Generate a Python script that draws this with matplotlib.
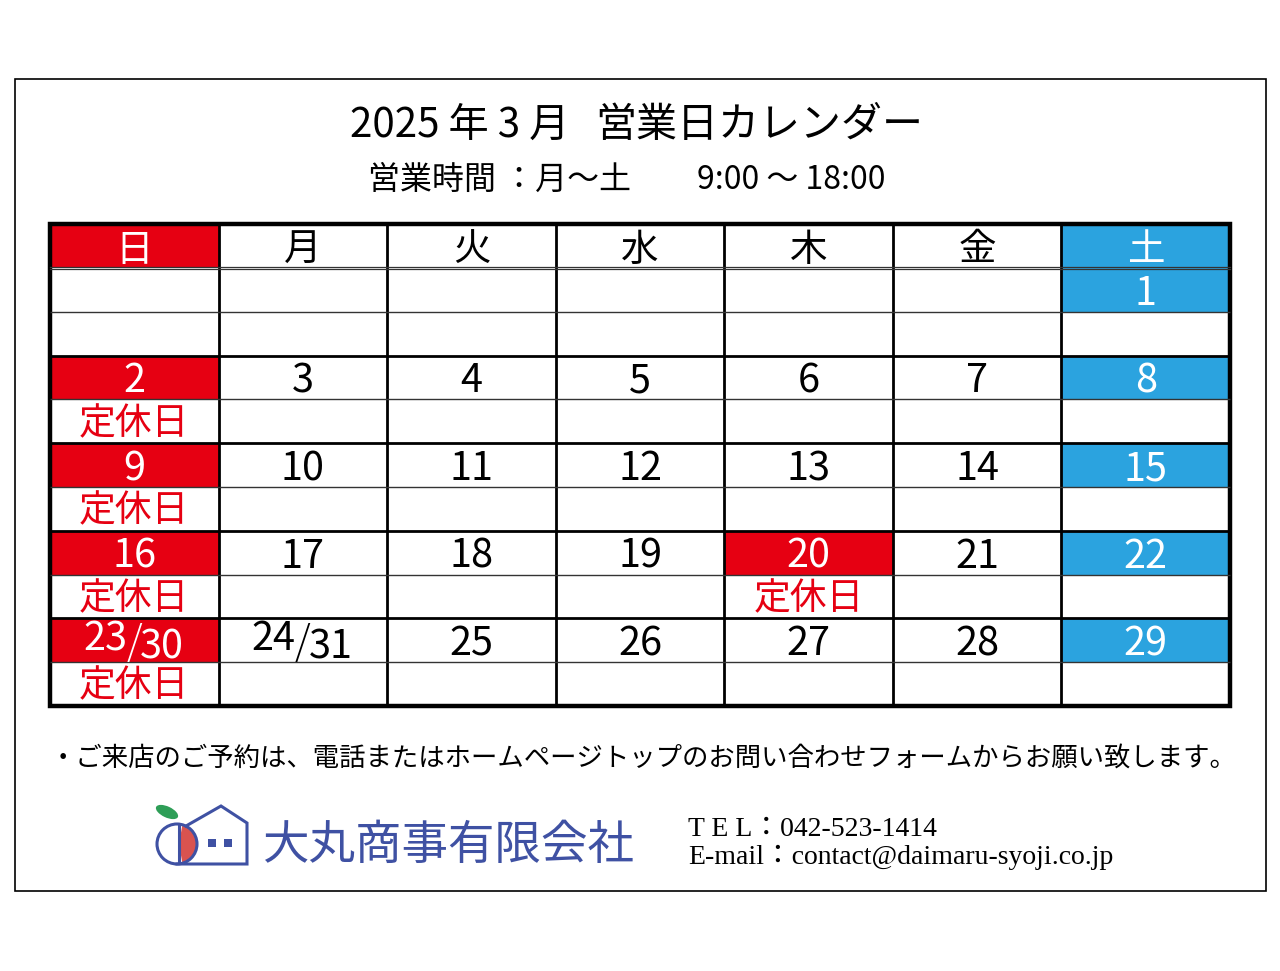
import matplotlib
matplotlib.use('Agg')
import matplotlib.pyplot as plt
from matplotlib.patches import Rectangle, Circle, Ellipse, Wedge
import numpy as np

plt.rcParams['font.family'] = ['Noto Sans CJK JP', 'DejaVu Sans']

# --- data ---
title_left = '2025 年 3 月'
title_right = '営業日カレンダー'
hours_left = '営業時間 ：月～土'
hours_right = '9:00 ～ 18:00'
weekdays = ['日', '月', '火', '水', '木', '金', '土']
weeks = [
    ['', '', '', '', '', '', '1'],
    ['2', '3', '4', '5', '6', '7', '8'],
    ['9', '10', '11', '12', '13', '14', '15'],
    ['16', '17', '18', '19', '20', '21', '22'],
    ['23/30', '24/31', '25', '26', '27', '28', '29'],
]
closed = [(1, 0), (2, 0), (3, 0), (3, 4), (4, 0)]   # (week, weekday)
closed_label = '定休日'
notice = '・ご来店のご予約は、電話またはホームページトップのお問い合わせフォームからお願い致します。'
company = '大丸商事有限会社'
tel = 'T E L：042-523-1414'
email = 'E-mail：contact@daimaru-syoji.co.jp'

RED = '#E60012'
BLUE = '#2BA3DF'
NAVY = '#3F51A3'
LOGO_RED = '#D9534F'
LEAF = '#2E9E57'

fig = plt.figure(figsize=(12.8, 9.71), dpi=100)
ax = fig.add_axes([0, 0, 1, 1])
ax.set_xlim(0, 1280)
ax.set_ylim(971, 0)
ax.axis('off')

# outer frame
ax.add_patch(Rectangle((15, 79), 1251, 812, fill=False, ec='black', lw=1.2))

ax.text(350, 125, title_left, ha='left', va='center', fontsize=29)
ax.text(595, 125, title_right, ha='left', va='center', fontsize=29.5)
ax.text(368, 180, hours_left, ha='left', va='center', fontsize=23)
ax.text(697, 180, hours_right, ha='left', va='center', fontsize=23)

# --- calendar table ---
left, right = 50, 1230
top, head_bot, bottom = 224, 268, 706
cw = (right - left) / 7
rh = (bottom - head_bot) / (2 * len(weeks))

for c, d in enumerate(weekdays):
    x = left + c * cw
    fc = RED if c == 0 else BLUE if c == 6 else 'white'
    ax.add_patch(Rectangle((x, top), cw, head_bot - top, fc=fc, ec='none'))
    ax.text(x + cw / 2, (top + head_bot) / 2 + 4, d,
            color='white' if c in (0, 6) else 'black',
            ha='center', va='center', fontsize=27)

num_fs = 28.5
for w, week in enumerate(weeks):
    y = head_bot + 2 * w * rh
    for c, day in enumerate(week):
        x = left + c * cw
        xc = x + cw / 2
        yc = y + rh / 2 + 4
        is_closed = (w, c) in closed
        fc = RED if is_closed else (BLUE if c == 6 and day else None)
        if fc:
            ax.add_patch(Rectangle((x, y), cw, rh, fc=fc, ec='none'))
        color = 'white' if fc else 'black'
        if '/' in day:
            a, b = day.split('/')
            ax.text(xc - 7, yc - 5, a, color=color, ha='right', va='center', fontsize=num_fs)
            ax.text(xc, yc, '/', color=color, ha='center', va='center',
                    fontsize=num_fs, fontweight='light')
            ax.text(xc + 6, yc + 3, b, color=color, ha='left', va='center', fontsize=num_fs)
        elif day:
            ax.text(xc, yc, day, color=color, ha='center', va='center', fontsize=num_fs)
        if is_closed:
            ax.text(xc, y + rh * 1.5 + 2, closed_label, color=RED,
                    ha='center', va='center', fontsize=26.5)

# grid lines
for c in range(8):
    x = left + c * cw
    ax.plot([x, x], [top, bottom], color='black', lw=2.0, solid_capstyle='butt')
ax.plot([left, right], [head_bot - 1, head_bot - 1], color='#333333', lw=0.9)
ax.plot([left, right], [head_bot + 1.5, head_bot + 1.5], color='#333333', lw=0.9)
for r in range(1, 2 * len(weeks)):
    yy = head_bot + r * rh
    ax.plot([left, right], [yy, yy], color='black' if r % 2 == 0 else '#333333',
            lw=2.0 if r % 2 == 0 else 1.0, solid_capstyle='butt')
ax.add_patch(Rectangle((left, top), right - left, bottom - top, fill=False,
                       ec='black', lw=3.2))

ax.text(50, 758, notice, ha='left', va='center', fontsize=19)

# --- logo ---
cx, cy, r = 177, 844, 20
ax.add_patch(Circle((cx, cy), r, fc='white', ec='none'))
ax.add_patch(Wedge((cx + 2, cy), r - 1.5, -80, 80, fc=LOGO_RED, ec='none'))
ax.add_patch(Circle((cx, cy), r, fill=False, ec=NAVY, lw=2.2))
ax.plot([cx + 2, cx + 2], [cy - r + 1, cy + r - 1], color=NAVY, lw=2.2)
ax.plot([cx + 9, 221, 247, 247, cx], [cy - r + 2, 806, 823, cy + r, cy + r],
        color=NAVY, lw=2.2, solid_joinstyle='miter')
ax.add_patch(Ellipse((167, 812), 24, 11, angle=25, fc=LEAF, ec='none'))
ax.add_patch(Rectangle((208, 839), 8, 8, fc=NAVY, ec='none'))
ax.add_patch(Rectangle((224, 839), 8, 8, fc=NAVY, ec='none'))
ax.text(262, 846, company, color=NAVY, ha='left', va='center', fontsize=33.5)

serif = ['Liberation Serif', 'Noto Sans CJK JP']
ax.text(688, 829, tel, ha='left', va='center', fontsize=20, family=serif)
ax.text(688, 857, email, ha='left', va='center', fontsize=20, family=serif)

fig.savefig('out.png', dpi=100, facecolor='white')
